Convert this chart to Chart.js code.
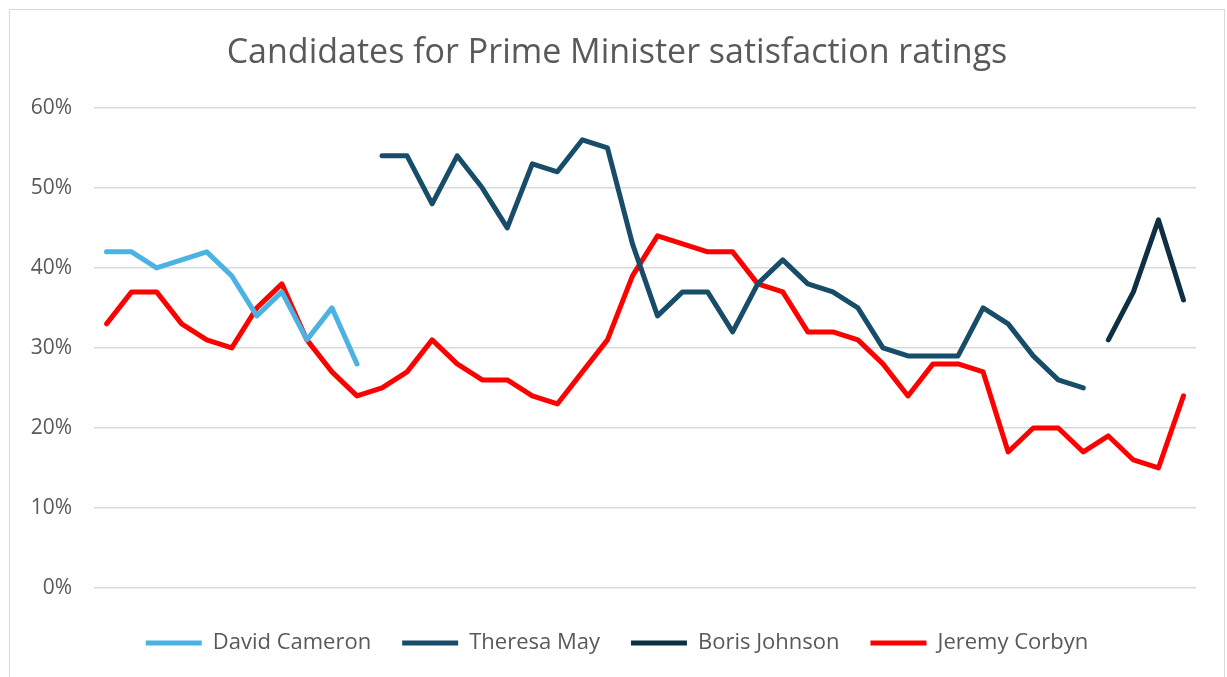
<!DOCTYPE html>
<html>
<head>
<meta charset="utf-8">
<script src="https://cdn.jsdelivr.net/npm/chart.js@4"></script>
<style>
  html, body { margin: 0; padding: 0; background: #fff; }
  #frame { position: absolute; left: 9px; top: 9px; width: 1216px; height: 700px; border: 1px solid #d9d9d9; box-sizing: border-box; }
  #wrap { position: absolute; left: 0; top: 0; width: 1227px; height: 677px; }
</style>
</head>
<body>
<div id="frame"></div>
<div id="wrap"><canvas id="ratings"></canvas></div>
<script>
// one entry per poll, 44 polls, no labels shown on the chart
const polls = Array.from({ length: 44 }, (_, i) => 'Poll ' + (i + 1))

const cameron = [42, 42, 40, 41, 42, 39, 34, 37, 31, 35, 28,
  null, null, null, null, null, null, null, null, null, null, null, null, null, null, null, null, null,
  null, null, null, null, null, null, null, null, null, null, null, null, null, null, null, null]

const may = [null, null, null, null, null, null, null, null, null, null, null,
  54, 54, 48, 54, 50, 45, 53, 52, 56, 55, 43, 34, 37, 37, 32, 38, 41, 38, 37, 35,
  30, 29, 29, 29, 35, 33, 29, 26, 25,
  null, null, null, null]

const johnson = [null, null, null, null, null, null, null, null, null, null, null, null, null, null,
  null, null, null, null, null, null, null, null, null, null, null, null, null, null, null, null,
  null, null, null, null, null, null, null, null, null, null,
  31, 37, 46, 36]

const corbyn = [33, 37, 37, 33, 31, 30, 35, 38, 31, 27, 24, 25, 27, 31, 28, 26, 26, 24, 23, 27,
  31, 39, 44, 43, 42, 42, 38, 37, 32, 32, 31, 28, 24, 28, 28, 27, 17, 20, 20, 17,
  19, 16, 15, 24]

const yTicks = [0, 10, 20, 30, 40, 50, 60]

const textColor = '#595959'
const fontFamily = '"Open Sans", "Noto Sans", sans-serif'

function lineSet(label, data, color) {
  return {
    label: label,
    data: data,
    borderColor: color,
    backgroundColor: color,
    borderWidth: 5,
    pointRadius: 0,
    pointHoverRadius: 0,
    tension: 0,
    spanGaps: false,
    borderCapStyle: 'round',
    borderJoinStyle: 'round'
  }
}

const dataRatings = {
  labels: polls,
  datasets: [
    lineSet('David Cameron', cameron, '#4bb2e2'),
    lineSet('Theresa May', may, '#174d68'),
    lineSet('Boris Johnson', johnson, '#0e2f44'),
    lineSet('Jeremy Corbyn', corbyn, '#ff0000')
  ]
}

const configRatings = {
  type: 'line',
  data: dataRatings,
  options: {
    responsive: true,
    maintainAspectRatio: false,
    animation: false,
    layout: { padding: { left: 10, right: 3, top: 0, bottom: 13 } },
    plugins: {
      title: {
        display: true,
        text: 'Candidates for Prime Minister satisfaction ratings',
        color: textColor,
        font: { family: fontFamily, size: 34, weight: 'normal' },
        padding: { top: 33, bottom: 34 }
      },
      legend: {
        position: 'bottom',
        labels: {
          usePointStyle: true,
          pointStyle: 'line',
          pointStyleWidth: 56,
          boxHeight: 22,
          color: textColor,
          padding: 31,
          font: { family: fontFamily, size: 22 }
        }
      },
      tooltip: { enabled: false }
    },
    scales: {
      x: {
        offset: true,
        grid: { display: false },
        border: { display: false },
        ticks: { display: false },
        afterFit: (scale) => { scale.height = 13 }
      },
      y: {
        min: yTicks[0],
        max: yTicks[yTicks.length - 1],
        afterBuildTicks: (scale) => { scale.ticks = yTicks.map((v) => ({ value: v })) },
        grid: { color: '#d9d9d9', lineWidth: 1.5, drawTicks: false },
        border: { display: false },
        ticks: {
          color: textColor,
          padding: 22,
          font: { family: fontFamily, size: 21 },
          callback: (v) => v + '%'
        },
        afterFit: (scale) => { scale.width = 84 }
      },
      // empty right margin so title and legend centre on the frame
      yRight: {
        position: 'right',
        grid: { display: false },
        border: { display: false },
        ticks: { display: false },
        afterFit: (scale) => { scale.width = 28 }
      }
    }
  }
}

const myChartRatings = new Chart(
  document.getElementById('ratings'),
  configRatings
)
</script>
</body>
</html>
